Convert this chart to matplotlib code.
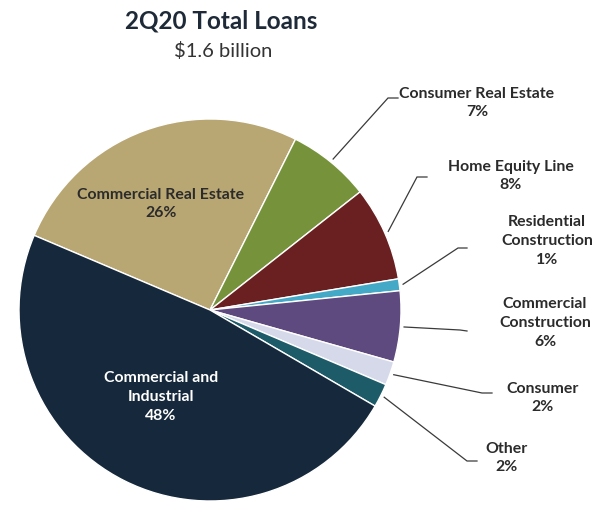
"""
Pie chart: 2Q20 total loan portfolio mix ($1.6 billion).
"""

import numpy as np
import matplotlib.pyplot as plt

W, H = 595, 507

categories = [
    "Commercial Real Estate",
    "Consumer Real Estate",
    "Home Equity Line",
    "Residential\nConstruction",
    "Commercial\nConstruction",
    "Consumer",
    "Other",
    "Commercial and\nIndustrial",
]
shares = [26, 7, 8, 1, 6, 2, 2, 48]
colors = [
    "#b8a673", "#76933c", "#6a2020", "#43a9c6",
    "#5e4a7e", "#d5d9ea", "#1d5b69", "#16283b",
]

TEXT = "#2b2b2b"
FS = 11.4
plt.rcParams["font.family"] = ["Lato", "DejaVu Sans"]


def px(x, y):
    # pixel coordinates (origin top-left) -> axes data coordinates
    return x, H - y


fig = plt.figure(figsize=(W / 100, H / 100), dpi=100)
ax = fig.add_axes([0, 0, 1, 1])

cx, cy = px(210, 310)
R = 191
start = 157
wedges, _ = ax.pie(
    shares, colors=colors, startangle=start, counterclock=False,
    center=(cx, cy), radius=R,
    wedgeprops=dict(edgecolor="white", linewidth=1.0),
)
ax.set_xlim(0, W)
ax.set_ylim(0, H)
ax.set_aspect("auto")
ax.axis("off")

# labels inside the two big slices
x, y = px(161, 204)
ax.text(x, y, f"{categories[0]}\n{shares[0]}%", ha="center", va="center",
        fontsize=FS, fontweight="bold", color=TEXT, linespacing=1.4)
x, y = px(161, 397)
ax.text(x, y, f"{categories[7]}\n{shares[7]}%", ha="center", va="center",
        fontsize=FS, fontweight="bold", color="white", linespacing=1.5)

# outside labels: (index, elbow px, line end px, text centre px)
outside = [
    (1, (388, 98), (398, 98), (477, 103)),
    (2, (417, 177), (427, 177), (511, 176)),
    (3, (458, 248), (467, 248), (547, 241)),
    (4, (460, 330), (467, 331), (545, 323)),
    (5, (482, 393), (492, 393), (543, 398)),
    (6, (467, 461), (477, 461), (507, 458)),
]
for i, elbow, end, txt in outside:
    w = wedges[i]
    mid = np.deg2rad((w.theta1 + w.theta2) / 2)
    sx = cx + R * 1.02 * np.cos(mid)
    sy = cy + R * 1.02 * np.sin(mid)
    ex, ey = px(*elbow)
    fx, fy = px(*end)
    ax.plot([sx, ex, fx], [sy, ey, fy], color="#3a3a3a", lw=0.9,
            solid_joinstyle="miter")
    tx, ty = px(*txt)
    ax.text(tx, ty, f"{categories[i]}\n{shares[i]}%", ha="center", va="center",
            fontsize=FS, fontweight="bold", color=TEXT, linespacing=1.45)

x, y = px(221, 21)
ax.text(x, y, "2Q20 Total Loans", ha="center", va="center",
        fontsize=17.5, fontweight="bold", color="#1f2a38")
x, y = px(223, 51)
ax.text(x, y, "$1.6 billion", ha="center", va="center",
        fontsize=14.5, color="#333333")

fig.savefig("out.png", dpi=100, facecolor="white")
